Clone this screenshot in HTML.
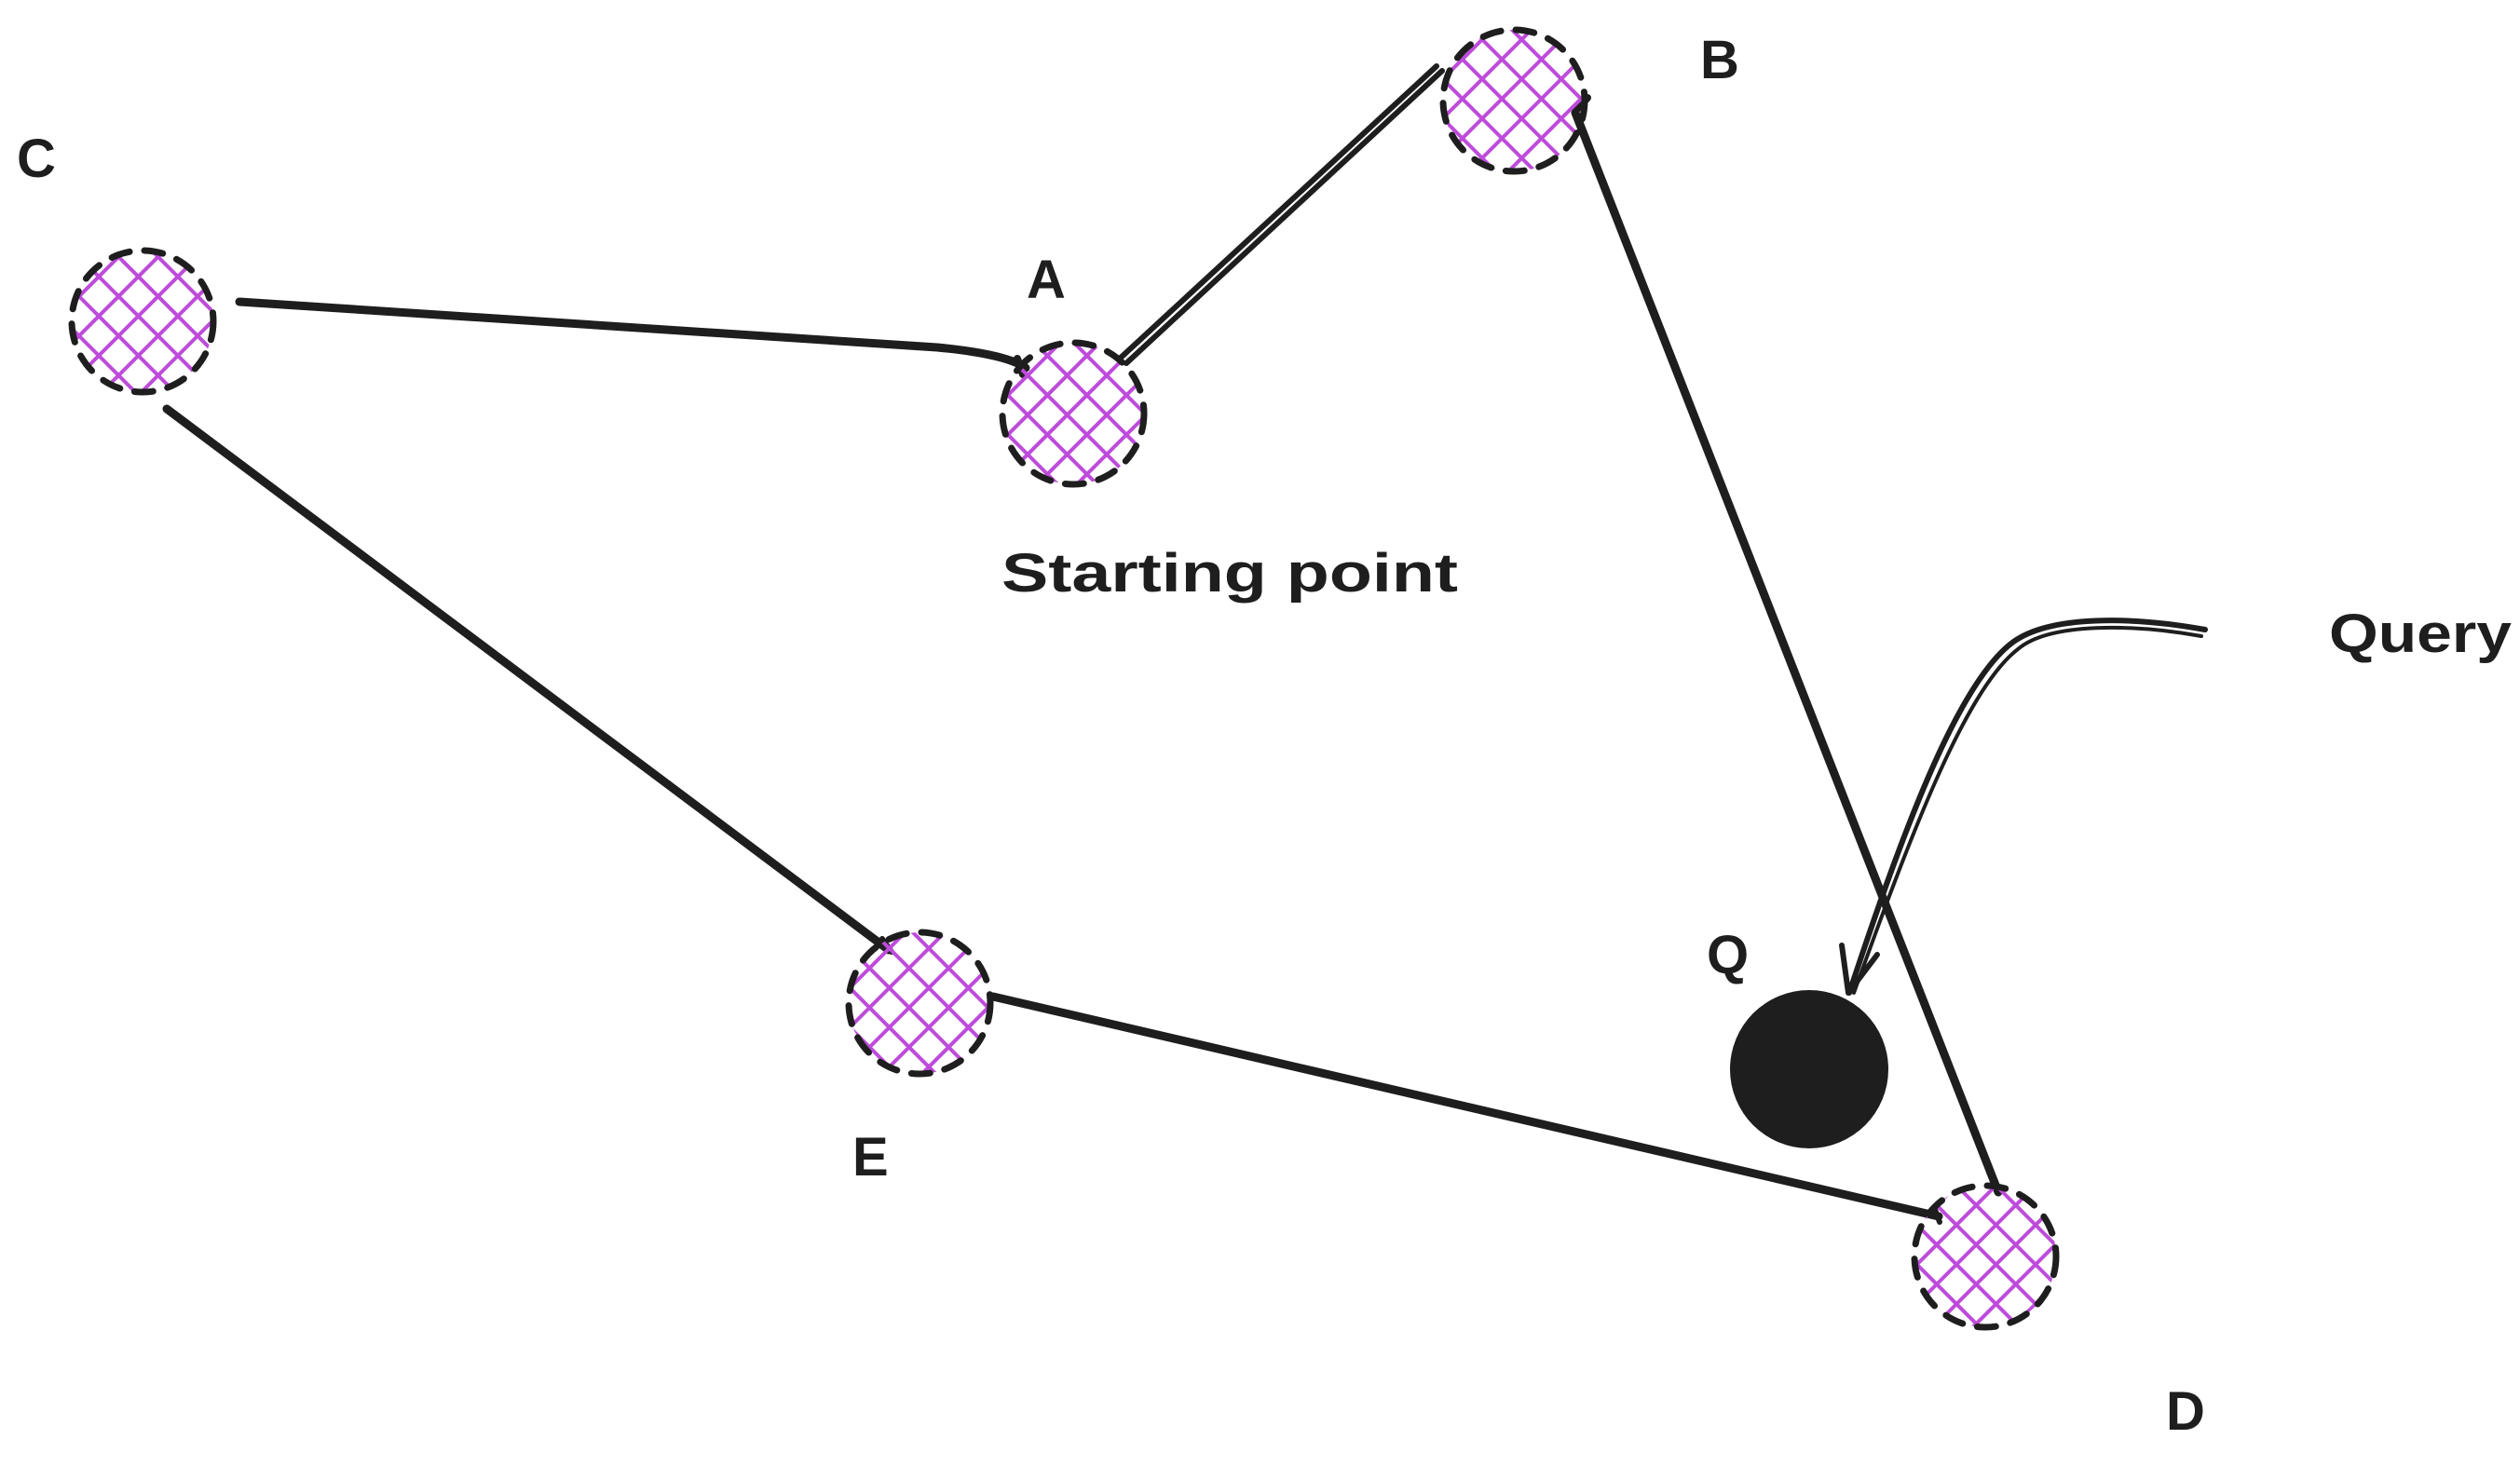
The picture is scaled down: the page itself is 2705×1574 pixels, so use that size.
<!DOCTYPE html>
<html><head><style>
html,body{margin:0;padding:0;background:#fff;}
svg{display:block}
text{font-family:"Liberation Sans",sans-serif;fill:#1e1e1e;font-size:58px;font-weight:bold;}
</style></head><body>
<svg width="2705" height="1574" viewBox="0 0 2705 1574" xmlns="http://www.w3.org/2000/svg">
<defs>
<pattern id="h" width="30" height="30" patternUnits="userSpaceOnUse" patternTransform="rotate(45)">
<path d="M0 15H30M15 0V30" stroke="#be4bdb" stroke-width="4"/>
</pattern>
</defs>
<g fill="none" stroke="#1e1e1e" stroke-linecap="round" stroke-linejoin="round">
<path d="M257 324 L1006 373 Q1080 380 1101 395" stroke-width="9"/>
<path d="M1092 385 L1098 402" stroke-width="8"/>
<path d="M1209 390 L1548 76" stroke-width="6"/>
<path d="M1203 384 L1542 71" stroke-width="6"/>
<path d="M1691 121 L2145 1280" stroke-width="9"/>
<path d="M1692 118 L1704 105" stroke-width="8"/>
<path d="M179 439 L954 1020" stroke-width="9"/>
<path d="M947 1008 L957 1022" stroke-width="6"/>
<path d="M1066 1070 L2081 1306" stroke-width="9"/>
<path d="M2076 1296 L2082 1312" stroke-width="6"/>
<path d="M2367 676 C2290 662 2200 660 2160 690 C2100 735 2040 900 1985 1066" stroke-width="6"/>
<path d="M2363 683 C2290 670 2200 668 2166 697 C2108 742 2048 905 1990 1066" stroke-width="4"/>
<path d="M1977 1015 L1984 1066 L2015 1025" stroke-width="6"/>
</g>
<circle cx="1942" cy="1148" r="85" fill="#1e1e1e"/>
<g stroke="#1e1e1e" stroke-width="7" stroke-dasharray="20 16" stroke-linecap="round">
<circle cx="153" cy="345" r="76" fill="url(#h)"/>
<circle cx="1152" cy="444" r="76" fill="url(#h)"/>
<circle cx="1625" cy="108" r="76" fill="url(#h)"/>
<circle cx="987" cy="1077" r="76" fill="url(#h)"/>
<circle cx="2131" cy="1349" r="76" fill="url(#h)"/>
</g>
<text x="18" y="190">C</text>
<text x="1102" y="320">A</text>
<text x="1825" y="84">B</text>
<text x="915" y="1262">E</text>
<text x="2325" y="1535">D</text>
<text x="1832" y="1045">Q</text>
<text x="1075" y="635" textLength="490" lengthAdjust="spacingAndGlyphs">Starting point</text>
<text x="2500" y="700" textLength="196" lengthAdjust="spacingAndGlyphs">Query</text>
</svg>
</body></html>
